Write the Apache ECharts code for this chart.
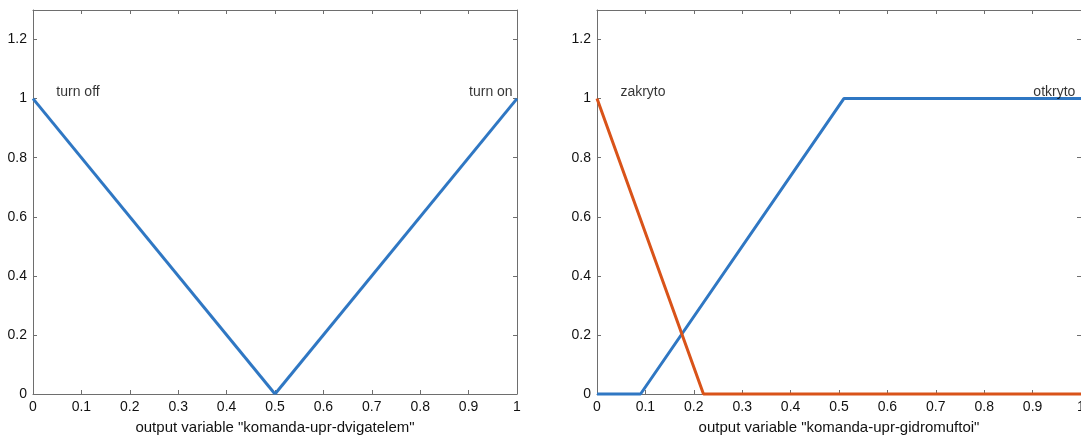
<!DOCTYPE html>
<html>
<head>
<meta charset="utf-8">
<script src="https://cdn.jsdelivr.net/npm/echarts@6/dist/echarts.min.js"></script>
<style>
html,body{margin:0;padding:0;background:#fff;overflow:hidden;}
#chart{width:1081px;height:437px;}
</style>
</head>
<body>
<div id="chart"></div>
<script>
// Left plot: output variable "komanda-upr-dvigatelem"
const leftName = 'output variable "komanda-upr-dvigatelem"';
const turnOff = [[0, 1], [0.5, 0]];
const turnOn = [[0.5, 0], [1, 1]];
const leftLabels = [[0.093, 1.022, 'turn off'], [0.946, 1.022, 'turn on']];

// Right plot: output variable "komanda-upr-gidromuftoi"
const rightName = 'output variable "komanda-upr-gidromuftoi"';
const otkryto = [[0, 0], [0.09, 0], [0.51, 1], [1, 1]];
const zakryto = [[0, 1], [0.22, 0], [1, 0]];
const rightLabels = [[0.095, 1.022, 'zakryto'], [0.945, 1.022, 'otkryto']];

const BLUE = '#2f77c3';
const ORANGE = '#d95319';
const AXIS = '#6e6e6e';
const FONT = 'Liberation Sans, Arial, Helvetica, sans-serif';

const chart = echarts.init(document.getElementById('chart'), null, {renderer: 'canvas'});

function xMain(gi, name) {
  return {
    type: 'value', gridIndex: gi, min: 0, max: 1, interval: 0.1, position: 'bottom',
    name: name, nameLocation: 'middle', nameGap: 26,
    nameTextStyle: {color: '#111', fontSize: 15, fontFamily: FONT},
    axisLine: {show: true, onZero: false, lineStyle: {color: AXIS, width: 1}},
    axisTick: {show: true, inside: true, length: 4, lineStyle: {color: AXIS}},
    axisLabel: {show: true, color: '#111', fontSize: 14, fontFamily: FONT, margin: 6},
    splitLine: {show: false}
  };
}
function xTop(gi) {
  return {
    type: 'value', gridIndex: gi, min: 0, max: 1, interval: 0.1, position: 'top',
    axisLine: {show: true, onZero: false, lineStyle: {color: AXIS, width: 1}},
    axisTick: {show: true, inside: true, length: 4, lineStyle: {color: AXIS}},
    axisLabel: {show: false}, splitLine: {show: false}
  };
}
function yMain(gi) {
  return {
    type: 'value', gridIndex: gi, min: 0, max: 1.3, interval: 0.2, position: 'left',
    axisLine: {show: true, onZero: false, lineStyle: {color: AXIS, width: 1}},
    axisTick: {show: true, inside: true, length: 4, lineStyle: {color: AXIS}},
    axisLabel: {show: true, color: '#111', fontSize: 14, fontFamily: FONT, margin: 6, showMaxLabel: false},
    splitLine: {show: false}
  };
}
function yRight(gi) {
  return {
    type: 'value', gridIndex: gi, min: 0, max: 1.3, interval: 0.2, position: 'right',
    axisLine: {show: true, onZero: false, lineStyle: {color: AXIS, width: 1}},
    axisTick: {show: true, inside: true, length: 4, lineStyle: {color: AXIS}},
    axisLabel: {show: false}, splitLine: {show: false}
  };
}
function lineSeries(name, xi, yi, data, color, z) {
  return {
    name: name, type: 'line', xAxisIndex: xi, yAxisIndex: yi, data: data,
    showSymbol: false, symbol: 'none', clip: false, z: z,
    lineStyle: {color: color, width: 3}, itemStyle: {color: color},
    animation: false
  };
}
function labelSeries(xi, yi, data) {
  return {
    type: 'scatter', xAxisIndex: xi, yAxisIndex: yi, data: data, symbolSize: 1,
    itemStyle: {color: 'transparent'}, z: 5, silent: true, animation: false,
    label: {show: true, position: 'inside', color: '#000', fontSize: 14, fontFamily: FONT,
      formatter: p => p.data[2]}
  };
}

chart.setOption({
  backgroundColor: '#fff',
  animation: false,
  grid: [
    {left: 33, width: 484, top: 10, height: 384, containLabel: false, outerBoundsMode: 'none'},
    {left: 597, width: 484, top: 10, height: 384, containLabel: false, outerBoundsMode: 'none'}
  ],
  xAxis: [xMain(0, leftName), xTop(0), xMain(1, rightName), xTop(1)],
  yAxis: [yMain(0), yRight(0), yMain(1), yRight(1)],
  series: [
    lineSeries('turn off', 0, 0, turnOff, BLUE, 3),
    lineSeries('turn on', 0, 0, turnOn, BLUE, 3),
    labelSeries(0, 0, leftLabels),
    lineSeries('otkryto', 2, 2, otkryto, BLUE, 3),
    lineSeries('zakryto', 2, 2, zakryto, ORANGE, 4),
    labelSeries(2, 2, rightLabels)
  ]
});
</script>
</body>
</html>
